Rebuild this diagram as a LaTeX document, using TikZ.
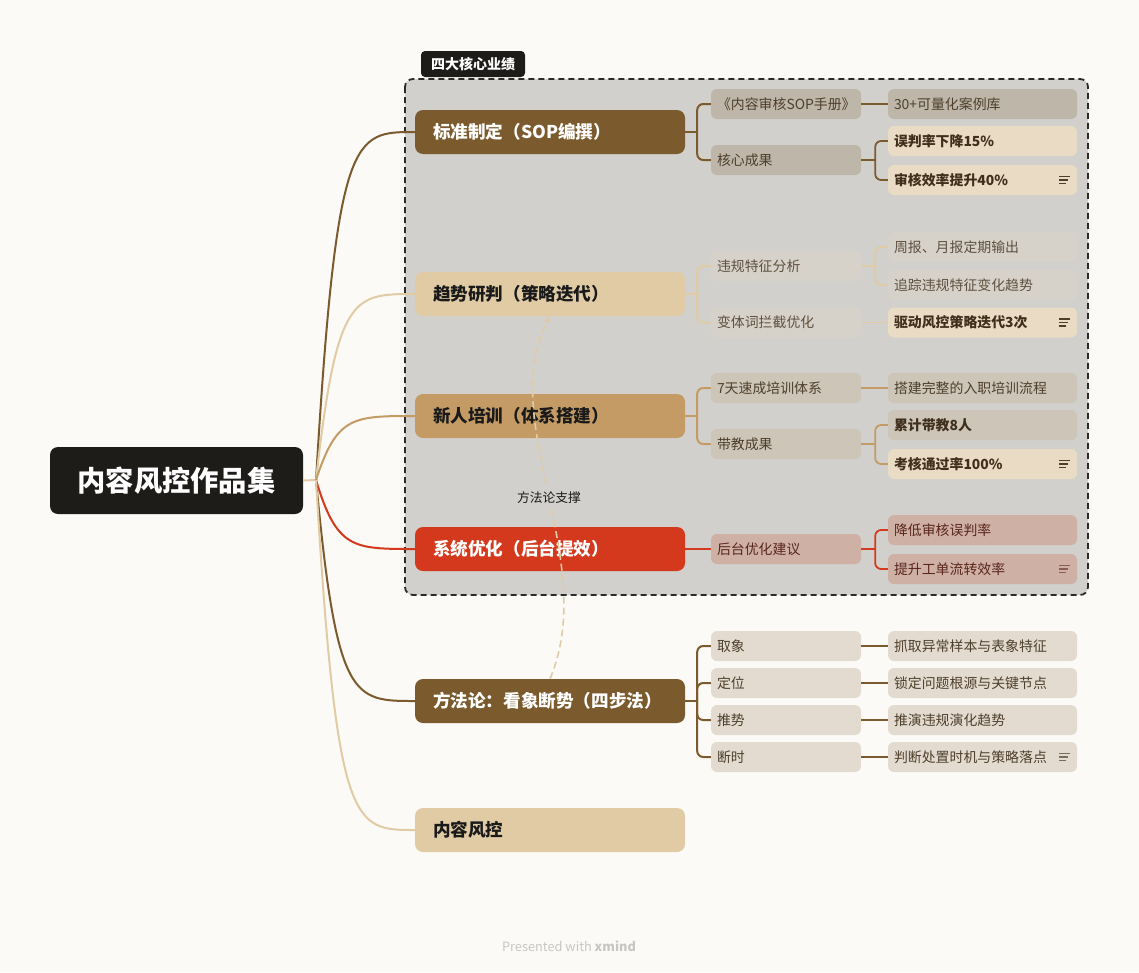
\documentclass[tikz,border=0pt]{standalone}
\usepackage{fontspec}
\setmainfont{Noto Sans CJK SC}
\usetikzlibrary{arrows.meta,calc}
\definecolor{pagebg}{HTML}{FBFAF6}
\definecolor{boxbg}{HTML}{D1D0CC}
\definecolor{boxline}{HTML}{2B2B29}
\definecolor{darkk}{HTML}{1E1C19}
\definecolor{cbrown}{HTML}{7B5A2D}
\definecolor{cbeige}{HTML}{E0CBA5}
\definecolor{ctan}{HTML}{C49B65}
\definecolor{cred}{HTML}{D4391D}
\definecolor{sonefill}{HTML}{BEB6A9}
\definecolor{sonetext}{HTML}{4E3F2C}
\definecolor{hlfill}{HTML}{E9DBC4}
\definecolor{hltext}{HTML}{3F2F1C}
\definecolor{stwofill}{HTML}{D7D2C9}
\definecolor{stwotext}{HTML}{5E5040}
\definecolor{sthreefill}{HTML}{CCC5B8}
\definecolor{sfourfill}{HTML}{CFB0A5}
\definecolor{sfourtext}{HTML}{5A261B}
\definecolor{sfivefill}{HTML}{E3DBD0}
\definecolor{maintextdark}{HTML}{1A1A1A}
\definecolor{footgray}{HTML}{C6C6C3}
\newcommand{\noteicon}[2]{%
  \draw[#2,line width=1.3pt] ([shift={(-18,-3.6)}]#1.east) -- ++(11,0)
    ([shift={(-18,0)}]#1.east) -- ++(9,0)
    ([shift={(-18,3.6)}]#1.east) -- ++(7,0);}
\begin{document}
\begin{tikzpicture}[x=1pt,y=-1pt,
  mainbox/.style={rounded corners=8pt, minimum height=44pt, inner xsep=18pt, inner ysep=0pt, text width=234pt, align=left, font=\fontsize{17.6}{20}\selectfont\bfseries},
  subbox/.style={rounded corners=6pt, minimum height=30pt, inner xsep=6pt, inner ysep=0pt, text width=138pt, align=left, font=\fontsize{13.9}{16}\selectfont},
  leafbox/.style={rounded corners=6pt, minimum height=30pt, inner xsep=6pt, inner ysep=0pt, text width=177pt, align=left, font=\fontsize{13.9}{16}\selectfont},
  hl/.style={fill=hlfill, text=hltext, font=\fontsize{13.9}{16}\selectfont\bfseries},
  trunk/.style={line width=2pt},
  twig/.style={line width=1.8pt},
  rootline/.style={line width=2pt},
  rel/.style={cbeige, line width=1.6pt, dash pattern=on 7pt off 4pt, -{Stealth[length=7pt,width=6pt]}},
  forkc/.style={rounded corners=6pt}
]
\useasboundingbox (0,0) rectangle (1139,972);
\fill[pagebg] (0,0) rectangle (1139,972);

% boundary
\draw[boxline, fill=boxbg, line width=1.8pt, dash pattern=on 6pt off 4pt, rounded corners=8pt] (405,79) rectangle (1088,595);
\node[fill=darkk, text=white, rounded corners=4pt, minimum width=104pt, minimum height=26pt, inner sep=0pt, font=\fontsize{14}{16}\selectfont\bfseries] (tab) at (473,64) {四大核心业绩};

% root
\node[fill=darkk, text=white, rounded corners=8pt, minimum width=253pt, minimum height=67pt, inner sep=0pt, font=\fontsize{28.3}{32}\selectfont\bfseries] (root) at (176.5,480.5) {内容风控作品集};

% main branches
\node[mainbox, fill=cbrown, text=white] (b1) at (550,132) {标准制定（SOP编撰）};
\node[mainbox, fill=cbeige, text=maintextdark] (b2) at (550,294) {趋势研判（策略迭代）};
\node[mainbox, fill=ctan, text=maintextdark] (b3) at (550,416) {新人培训（体系搭建）};
\node[mainbox, fill=cred, text=white] (b4) at (550,549) {系统优化（后台提效）};
\node[mainbox, fill=cbrown, text=white] (b5) at (550,701) {方法论：看象断势（四步法）};
\node[mainbox, fill=cbeige, text=maintextdark] (b6) at (550,830) {内容风控};

% root connectors
\coordinate (rj) at (316,480);
\draw[cbeige, rootline] (root.east) -- (rj);
\foreach \b/\c in {b1/cbrown, b2/cbeige, b3/ctan, b4/cred, b5/cbrown, b6/cbeige}
  \draw[\c, rootline] (rj) .. controls ($(\b.west)+(-78,0)$) and ($(\b.west)+(-62,0)$) .. (\b.west);

% branch 1
\node[subbox, fill=sonefill, text=sonetext] (s11) at (786,104) {《内容审核SOP手册》};
\node[subbox, fill=sonefill, text=sonetext] (s12) at (786,160) {核心成果};
\node[leafbox, fill=sonefill, text=sonetext] (l111) at (982.5,104) {30+可量化案例库};
\node[leafbox, hl] (l121) at (982.5,141) {误判率下降15\%};
\node[leafbox, hl] (l122) at (982.5,180) {审核效率提升40\%};
\noteicon{l122}{sonetext}
\draw[trunk, cbrown] (b1.east) -- ++(12,0) coordinate (j1);
\draw[trunk, cbrown, forkc] (j1) |- (s11.west);
\draw[trunk, cbrown, forkc] (j1) |- (s12.west);
\draw[twig, cbrown] (s11.east) -- (l111.west);
\draw[twig, cbrown] (s12.east) -- ++(14,0) coordinate (j12);
\draw[twig, cbrown, forkc] (j12) |- (l121.west);
\draw[twig, cbrown, forkc] (j12) |- (l122.west);

% branch 2
\node[subbox, fill=stwofill, text=stwotext] (s21) at (786,266) {违规特征分析};
\node[subbox, fill=stwofill, text=stwotext] (s22) at (786,322.5) {变体词拦截优化};
\node[leafbox, fill=stwofill, text=stwotext] (l211) at (982.5,247) {周报、月报定期输出};
\node[leafbox, fill=stwofill, text=stwotext] (l212) at (982.5,285) {追踪违规特征变化趋势};
\node[leafbox, hl] (l221) at (982.5,322.5) {驱动风控策略迭代3次};
\noteicon{l221}{sonetext}
\draw[trunk, cbeige] (b2.east) -- ++(12,0) coordinate (j2);
\draw[trunk, cbeige, forkc] (j2) |- (s21.west);
\draw[trunk, cbeige, forkc] (j2) |- (s22.west);
\draw[twig, cbeige] (s21.east) -- ++(14,0) coordinate (j21);
\draw[twig, cbeige, forkc] (j21) |- (l211.west);
\draw[twig, cbeige, forkc] (j21) |- (l212.west);
\draw[twig, cbeige] (s22.east) -- (l221.west);

% branch 3
\node[subbox, fill=sthreefill, text=sonetext] (s31) at (786,388) {7天速成培训体系};
\node[subbox, fill=sthreefill, text=sonetext] (s32) at (786,444) {带教成果};
\node[leafbox, fill=sthreefill, text=sonetext] (l311) at (982.5,388) {搭建完整的入职培训流程};
\node[leafbox, fill=sthreefill, text=hltext, font=\fontsize{13.9}{16}\selectfont\bfseries] (l321) at (982.5,425) {累计带教8人};
\node[leafbox, hl] (l322) at (982.5,464) {考核通过率100\%};
\noteicon{l322}{sonetext}
\draw[trunk, ctan] (b3.east) -- ++(12,0) coordinate (j3);
\draw[trunk, ctan, forkc] (j3) |- (s31.west);
\draw[trunk, ctan, forkc] (j3) |- (s32.west);
\draw[twig, ctan] (s31.east) -- (l311.west);
\draw[twig, ctan] (s32.east) -- ++(14,0) coordinate (j32);
\draw[twig, ctan, forkc] (j32) |- (l321.west);
\draw[twig, ctan, forkc] (j32) |- (l322.west);

% branch 4
\node[subbox, fill=sfourfill, text=sfourtext] (s41) at (786,549) {后台优化建议};
\node[leafbox, fill=sfourfill, text=sfourtext] (l411) at (982.5,530) {降低审核误判率};
\node[leafbox, fill=sfourfill, text=sfourtext] (l412) at (982.5,569) {提升工单流转效率};
\noteicon{l412}{sfourtext!60!sfourfill}
\draw[trunk, cred] (b4.east) -- (s41.west);
\draw[twig, cred] (s41.east) -- ++(14,0) coordinate (j41);
\draw[twig, cred, forkc] (j41) |- (l411.west);
\draw[twig, cred, forkc] (j41) |- (l412.west);

% branch 5
\node[subbox, fill=sfivefill, text=sonetext] (s51) at (786,646) {取象};
\node[subbox, fill=sfivefill, text=sonetext] (s52) at (786,683) {定位};
\node[subbox, fill=sfivefill, text=sonetext] (s53) at (786,720) {推势};
\node[subbox, fill=sfivefill, text=sonetext] (s54) at (786,757) {断时};
\node[leafbox, fill=sfivefill, text=sonetext] (l51) at (982.5,646) {抓取异常样本与表象特征};
\node[leafbox, fill=sfivefill, text=sonetext] (l52) at (982.5,683) {锁定问题根源与关键节点};
\node[leafbox, fill=sfivefill, text=sonetext] (l53) at (982.5,720) {推演违规演化趋势};
\node[leafbox, fill=sfivefill, text=sonetext] (l54) at (982.5,757) {判断处置时机与策略落点};
\noteicon{l54}{sonetext!70!sfivefill}
\draw[trunk, cbrown] (b5.east) -- ++(12,0) coordinate (j5);
\foreach \s in {s51,s52,s53,s54}
  \draw[trunk, cbrown, forkc] (j5) |- (\s.west);
\draw[twig, cbrown] (s51.east) -- (l51.west);
\draw[twig, cbrown] (s52.east) -- (l52.west);
\draw[twig, cbrown] (s53.east) -- (l53.west);
\draw[twig, cbrown] (s54.east) -- (l54.west);

% relationship
\draw[rel] (b5.north) .. controls (600,560) and (495,420) .. (b2.south);
\node[fill=boxbg, text=maintextdark, inner xsep=3pt, inner ysep=4pt, font=\fontsize{12.8}{15}\selectfont] (rl) at (549,498) {方法论支撑};

% footer
\node[text=footgray, font=\fontsize{12.8}{15}\selectfont] (foot) at (569,946) {Presented with \textbf{xmind}};
\end{tikzpicture}
\end{document}
